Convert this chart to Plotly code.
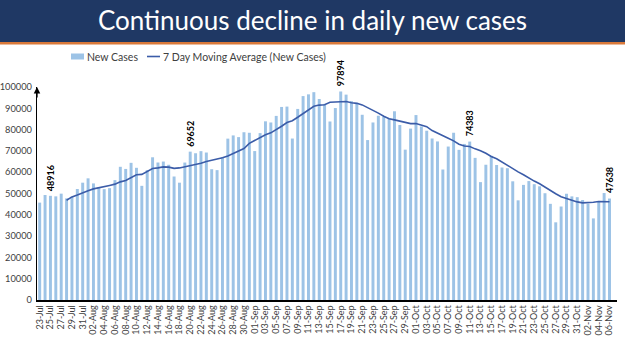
import plotly.graph_objects as go

dates = (["%02d-Jul" % d for d in range(23, 32)] +
         ["%02d-Aug" % d for d in range(1, 32)] +
         ["%02d-Sep" % d for d in range(1, 31)] +
         ["%02d-Oct" % d for d in range(1, 32)] +
         ["%02d-Nov" % d for d in range(1, 7)])

new_cases = [
    45720, 49310, 48916, 48661, 49931, 47703, 48513, 52123, 55079,
    57118, 54736, 52972, 52050, 52509, 56282, 62538, 61537, 64399, 62064,
    53601, 60963, 66999, 64553, 65002, 63490, 57981, 55079, 64531, 69652,
    68898, 69878, 69239, 61408, 60975, 67151, 75760, 77266, 76472, 78761, 78512,
    69921, 78357, 83883, 83341, 86432, 90632, 90802, 75809, 89706, 95735,
    96551, 97570, 94372, 92071, 83809, 90123, 97894, 96424, 93337, 92605,
    86961, 75083, 83347, 86508, 86052, 85362, 88600, 82170, 70589, 80472,
    86821, 81484, 79476, 75829, 74442, 61267, 72049, 78524, 70496, 73272,
    74383, 66732, 55342, 63509, 67708, 63371, 62212, 61871, 55722, 46790,
    54044, 55839, 54366, 53370, 50129, 45149, 36469, 43893, 49881, 48648, 48268,
    46963, 45231, 38310, 46253, 50210, 47638,
]

ma_dates = dates[5:]
moving_avg = [
    46852, 48393, 49308, 50132,
    51304, 52172, 52606, 53227, 53798, 54392, 55458, 56089, 57470, 58768,
    58990, 60198, 61729, 62017, 62512, 62382, 61798, 62010, 62519, 62898,
    63519, 64216, 65037, 65526, 66369, 66743, 67616, 68811, 69753, 71113, 73557,
    74835, 76436, 77596, 78464, 79887, 81583, 83338, 84179, 85801, 87494,
    89381, 90972, 91506, 91688, 92831, 92890, 93199, 93180, 92576, 92323,
    91593, 90347, 89379, 87752, 86270, 85131, 84559, 83875, 83233, 82822,
    82867, 82214, 81373, 79549, 78445, 77113, 75910, 74724, 73155, 72268,
    72062, 70960, 70114, 68894, 67349, 66331, 64751, 62964, 61391, 60169,
    58817, 57121, 55835, 54572, 52894, 51384, 49909, 48459, 47608, 46791, 46062,
    45610, 45622, 45885, 46222, 46269, 46125,
]

label_dates = ["25-Jul", "20-Aug", "17-Sep", "11-Oct", "06-Nov"]
label_values = [48916, 69652, 97894, 74383, 47638]

y_ticks = [0, 10000, 20000, 30000, 40000, 50000, 60000, 70000, 80000, 90000, 100000]

title_text = "Continuous decline in daily new cases"
legend_bar = "New Cases"
legend_line = "7 Day Moving Average (New Cases)"

W, H = 625, 351
ML, MR, MT, MB = 37, 8, 87, 51
PW, PH = W - ML - MR, H - MT - MB

def px(x):
    return (x - ML) / PW

def py(y):
    return (H - MB - y) / PH

BAR_COLOR = "#9DC3E6"
LINE_COLOR = "#3B5CA8"
FONT = "Lato"
TXT = "#404040"

fig = go.Figure()
fig.add_trace(go.Bar(x=dates, y=new_cases, marker=dict(color=BAR_COLOR, line=dict(width=0)),
                     name=legend_bar, showlegend=False))
fig.add_trace(go.Scatter(x=ma_dates, y=moving_avg, mode="lines",
                         line=dict(color=LINE_COLOR, width=1.6),
                         name=legend_line, showlegend=False))

shapes = [
    dict(type="rect", xref="paper", yref="paper", x0=px(0), x1=px(W), y0=py(0), y1=py(42),
         fillcolor="#1F3864", line=dict(width=0), layer="below"),
    dict(type="rect", xref="paper", yref="paper", x0=px(0), x1=px(W), y0=py(42), y1=py(44.5),
         fillcolor="#D9793A", line=dict(width=0), layer="below"),
    dict(type="rect", xref="paper", yref="paper", x0=px(71), x1=px(84), y0=py(53.5), y1=py(59.5),
         fillcolor=BAR_COLOR, line=dict(width=0)),
    dict(type="line", xref="paper", yref="paper", x0=px(147), x1=px(160), y0=py(56.5), y1=py(56.5),
         line=dict(color=LINE_COLOR, width=1.6)),
]

annotations = [
    dict(text=legend_bar, xref="paper", yref="paper", x=px(85), y=py(56.5), showarrow=False,
         xanchor="left", yanchor="middle", font=dict(family=FONT, size=10.5, color=TXT)),
    dict(text=legend_line, xref="paper", yref="paper", x=px(161), y=py(56.5), showarrow=False,
         xanchor="left", yanchor="middle", font=dict(family=FONT, size=10.5, color=TXT)),
    dict(text="", xref="paper", yref="y", x=0, y=100000, showarrow=True, arrowhead=2,
         arrowsize=1, arrowwidth=1.3, arrowcolor="#000000", ax=0, ay=12),
]
for d, v in zip(label_dates, label_values):
    annotations.append(dict(text="<b>%d</b>" % v, x=d, y=v, xref="x", yref="y", showarrow=False,
                            textangle=-90, xanchor="center", yanchor="bottom", yshift=3,
                            font=dict(family=FONT, size=9, color="#000000")))

fig.update_layout(
    width=W, height=H,
    margin=dict(l=ML, r=MR, t=MT, b=MB, pad=0, autoexpand=False),
    paper_bgcolor="white", plot_bgcolor="white",
    title=dict(text=title_text, x=0.5, xref="container", xanchor="center", y=1 - 21 / H,
               yref="container", yanchor="middle",
               font=dict(family=FONT, size=26, color="white")),
    bargap=0.45,
    showlegend=False,
    shapes=shapes,
    annotations=annotations,
    xaxis=dict(type="category", tickmode="array", tickvals=dates[::2], ticktext=dates[::2],
               tickangle=-90, tickfont=dict(family=FONT, size=9, color=TXT),
               showline=True, linecolor="#000000", linewidth=1.5, ticks="", showgrid=False,
               zeroline=False, fixedrange=True, automargin=False),
    yaxis=dict(range=[0, 100000], tickmode="array", tickvals=y_ticks,
               ticktext=[str(t) for t in y_ticks], tickfont=dict(family=FONT, size=9.3, color=TXT),
               showline=True, linecolor="#000000", linewidth=1.3, ticks="", showgrid=False,
               zeroline=False, ticklabelstandoff=2, automargin=False),
)

fig.write_html("out.html")
